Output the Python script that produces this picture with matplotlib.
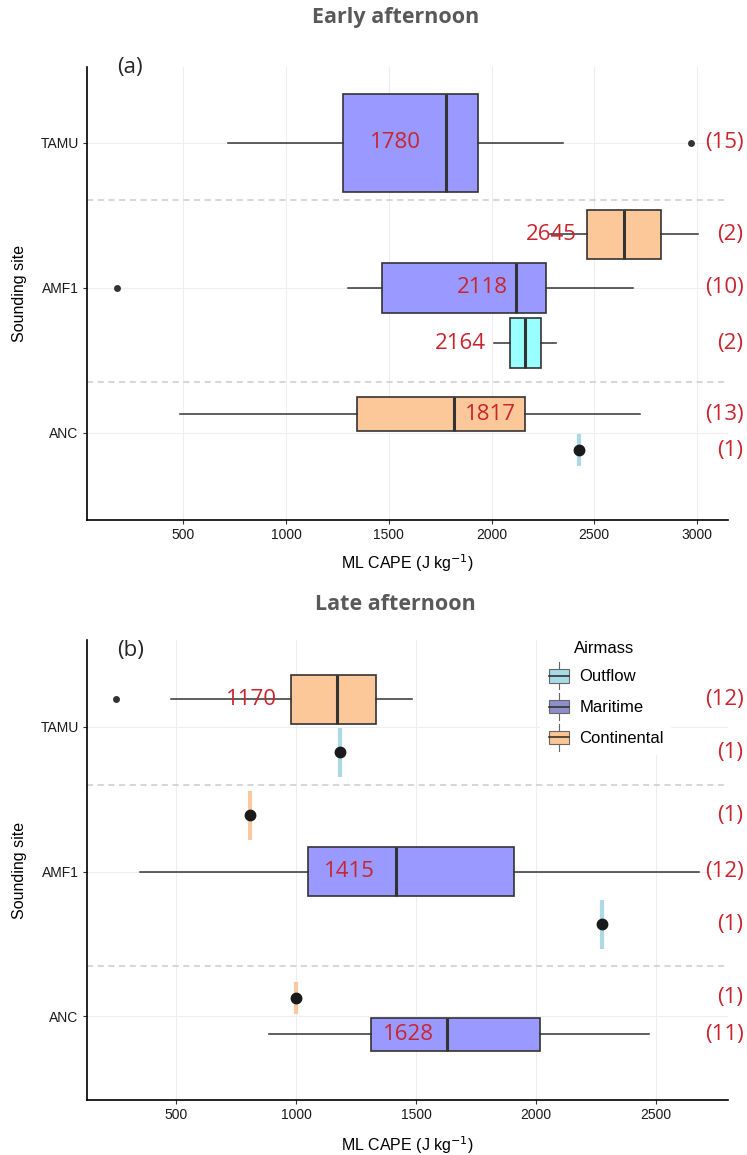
import matplotlib
matplotlib.use("Agg")
import matplotlib.pyplot as plt
import matplotlib.transforms as mtransforms
from matplotlib.patches import Rectangle, Patch
from matplotlib.lines import Line2D
from matplotlib.legend_handler import HandlerBase

# ---- data -------------------------------------------------------------
sites = ["TAMU", "AMF1", "ANC"]
site_pos = {"TAMU": 3, "AMF1": 2, "ANC": 1}
airmass = ["Outflow", "Maritime", "Continental"]

# early afternoon (a): box summaries, n = 1 means a single sounding
early_site = ["TAMU", "AMF1", "AMF1", "AMF1", "ANC", "ANC"]
early_mass = ["Maritime", "Continental", "Maritime", "Outflow", "Continental", "Outflow"]
early_n = [15, 2, 10, 2, 13, 1]
early_lo = [719, 2284, 1302, 2012, 486, 2426]
early_q1 = [1279, 2464, 1465, 2088, 1345, 2426]
early_med = [1780, 2645, 2118, 2164, 1817, 2426]
early_q3 = [1933, 2826, 2267, 2240, 2163, 2426]
early_hi = [2348, 3006, 2689, 2316, 2725, 2426]
early_out = [[2973], [], [177], [], [], []]

# late afternoon (b)
late_site = ["TAMU", "TAMU", "AMF1", "AMF1", "AMF1", "ANC", "ANC"]
late_mass = ["Continental", "Outflow", "Continental", "Maritime", "Outflow", "Continental", "Maritime"]
late_n = [12, 1, 1, 12, 1, 1, 11]
late_lo = [480, 1181, 809, 347, 2274, 1000, 888]
late_q1 = [978, 1181, 809, 1049, 2274, 1000, 1310]
late_med = [1170, 1181, 809, 1415, 2274, 1000, 1628]
late_q3 = [1332, 1181, 809, 1906, 2274, 1000, 2016]
late_hi = [1481, 1181, 809, 2678, 2274, 1000, 2472]
late_out = [[247], [], [], [], [], [], []]

# ---- layout (dodge offsets, box heights, label spots) -----------------
early_dy = [0.0, 0.37, 0.0, -0.38, 0.13, -0.12]
early_h = [0.68, 0.34, 0.34, 0.34, 0.23, 0.22]
early_lab_x = [1531, 2290, 1954, 1846, 1995, None]

late_dy = [0.19, -0.175, 0.39, 0.0, -0.363, 0.128, -0.124]
late_h = [0.34, 0.34, 0.34, 0.34, 0.34, 0.22, 0.23]
late_lab_x = [812, None, None, 1223, None, None, 1469]

box_fill = {"Maritime": "#9999FF", "Continental": "#FCC899", "Outflow": "#99FFFF"}
single_col = {"Outflow": "#ADD8E6", "Continental": "#FAC8A0", "Maritime": "#9999FF"}
key_col = {"Outflow": "#A6DBE6", "Maritime": "#8E8ECB", "Continental": "#FCC594"}

RED = "#C9252F"
EDGE = "#333333"
NUM_FONT = ["Open Sans", "DejaVu Sans"]
AX_FONT = ["Liberation Sans Narrow", "Liberation Sans", "DejaVu Sans"]


class BoxKey(HandlerBase):
    def create_artists(self, legend, orig_handle, xdescent, ydescent,
                       width, height, fontsize, trans):
        fc = orig_handle.get_facecolor()
        bw, bh = width * 0.8, height * 0.6
        x0 = (width - bw) / 2 - xdescent
        y0 = (height - bh) / 2 - ydescent
        cx = width / 2 - xdescent
        box = Rectangle((x0, y0), bw, bh, facecolor=fc, edgecolor="#666666",
                        lw=0.8, transform=trans)
        med = Line2D([x0, x0 + bw], [y0 + bh / 2] * 2, color="#333333", lw=1.2,
                     transform=trans)
        w1 = Line2D([cx, cx], [y0 - height * 0.3, y0], color="#666666", lw=0.8,
                    transform=trans)
        w2 = Line2D([cx, cx], [y0 + bh, y0 + bh + height * 0.3], color="#666666",
                    lw=0.8, transform=trans)
        return [w1, w2, box, med]


def draw_panel(ax, site, mass, n, lo, q1, med, q3, hi, out, dy, hh, lab_x,
               xlim, ylim, xticks, dashes):
    for i in range(len(site)):
        y = site_pos[site[i]] + dy[i]
        if n[i] == 1:
            ax.plot([med[i], med[i]], [y - hh[i] / 2, y + hh[i] / 2],
                    color=single_col[mass[i]], lw=3, solid_capstyle="butt", zorder=3)
            ax.plot(med[i], y, "o", color="#1a1a1a", ms=7.5, zorder=4)
        else:
            st = [dict(whislo=lo[i], q1=q1[i], med=med[i], q3=q3[i],
                       whishi=hi[i], fliers=out[i])]
            ax.bxp(st, positions=[y], widths=[hh[i]], orientation="horizontal",
                   patch_artist=True, showcaps=False, manage_ticks=False,
                   boxprops=dict(facecolor=box_fill[mass[i]], edgecolor=EDGE, lw=1.2),
                   medianprops=dict(color=EDGE, lw=2.2),
                   whiskerprops=dict(color=EDGE, lw=1.1),
                   flierprops=dict(marker="o", markersize=5, markerfacecolor=EDGE,
                                   markeredgecolor="none"),
                   zorder=3)
        if lab_x[i] is not None:
            ax.text(lab_x[i], y, f"{med[i]:.0f}", color=RED, fontsize=16,
                    family=NUM_FONT, ha="center", va="center", zorder=5)
        tr = mtransforms.blended_transform_factory(ax.transAxes, ax.transData)
        ax.text(1.024, y, f"({n[i]})", transform=tr, color=RED, fontsize=16,
                family=NUM_FONT, ha="right", va="center", clip_on=False)

    for d in dashes:
        ax.axhline(d, color="#CCCCCC", lw=1.1, ls=(0, (4, 3)), zorder=1)

    ax.set_xlim(*xlim)
    ax.set_ylim(*ylim)
    ax.set_xticks(xticks)
    ax.set_xticklabels([str(t) for t in xticks], family=AX_FONT, fontsize=10)
    ax.set_yticks([site_pos[s] for s in sites])
    ax.set_yticklabels(sites, family=AX_FONT, fontsize=10)
    ax.grid(True, color="#EEEEEE", lw=0.8, zorder=0)
    ax.set_axisbelow(True)
    for s in ["top", "right"]:
        ax.spines[s].set_visible(False)
    for s in ["left", "bottom"]:
        ax.spines[s].set_linewidth(1.2)
        ax.spines[s].set_color("black")
    ax.tick_params(length=3, width=0.8, color="#333333", labelcolor="#1a1a1a", pad=3)
    ax.set_xlabel("ML CAPE (J kg$^{-1}$)", family=AX_FONT, fontsize=11.5)
    ax.set_ylabel("Sounding site", family=AX_FONT, fontsize=11.5)
    ax.yaxis.set_label_coords(-0.093, 0.5)


fig = plt.figure(figsize=(7.47, 11.55), dpi=100)
ax1 = fig.add_axes([87 / 747, 1 - 520 / 1155, 641 / 747, 453 / 1155])
ax2 = fig.add_axes([87 / 747, 1 - 1100 / 1155, 641 / 747, 460 / 1155])

draw_panel(ax1, early_site, early_mass, early_n, early_lo, early_q1, early_med,
           early_q3, early_hi, early_out, early_dy, early_h, early_lab_x,
           (31, 3151), (0.40, 3.524), [500, 1000, 1500, 2000, 2500, 3000],
           [2.607, 1.352])
draw_panel(ax2, late_site, late_mass, late_n, late_lo, late_q1, late_med,
           late_q3, late_hi, late_out, late_dy, late_h, late_lab_x,
           (128, 2800), (0.423, 3.60), [500, 1000, 1500, 2000, 2500],
           [2.597, 1.349])
ax1.xaxis.set_label_coords(0.5, -0.072)
ax2.xaxis.set_label_coords(0.5, -0.074)

ax1.text(0.047, 1.022, "(a)", transform=ax1.transAxes, fontsize=16,
         family=NUM_FONT, color="#262626", va="top", ha="left")
ax2.text(0.047, 1.0, "(b)", transform=ax2.transAxes, fontsize=16,
         family=NUM_FONT, color="#262626", va="top", ha="left")

fig.text(0.529, 1 - 17 / 1155, "Early afternoon", fontsize=15.5, fontweight="bold",
         family=NUM_FONT, color="#595959", ha="center", va="center")
fig.text(0.529, 1 - 604 / 1155, "Late afternoon", fontsize=15.5, fontweight="bold",
         family=NUM_FONT, color="#595959", ha="center", va="center")

handles = [Patch(facecolor=key_col[m]) for m in airmass]
leg = ax2.legend(handles, airmass, title="Airmass", loc="upper left",
                 bbox_to_anchor=(0.693, 1.03), handler_map={Patch: BoxKey()},
                 prop={"family": AX_FONT, "size": 12},
                 title_fontproperties={"family": AX_FONT, "size": 12},
                 alignment="left", frameon=True, framealpha=1, edgecolor="none",
                 facecolor="white", fancybox=False, handlelength=1.5,
                 handleheight=1.7, handletextpad=0.5, labelspacing=0.5,
                 borderpad=0.4)
leg.get_title().set_x(28)

fig.savefig("out.png", dpi=100)
